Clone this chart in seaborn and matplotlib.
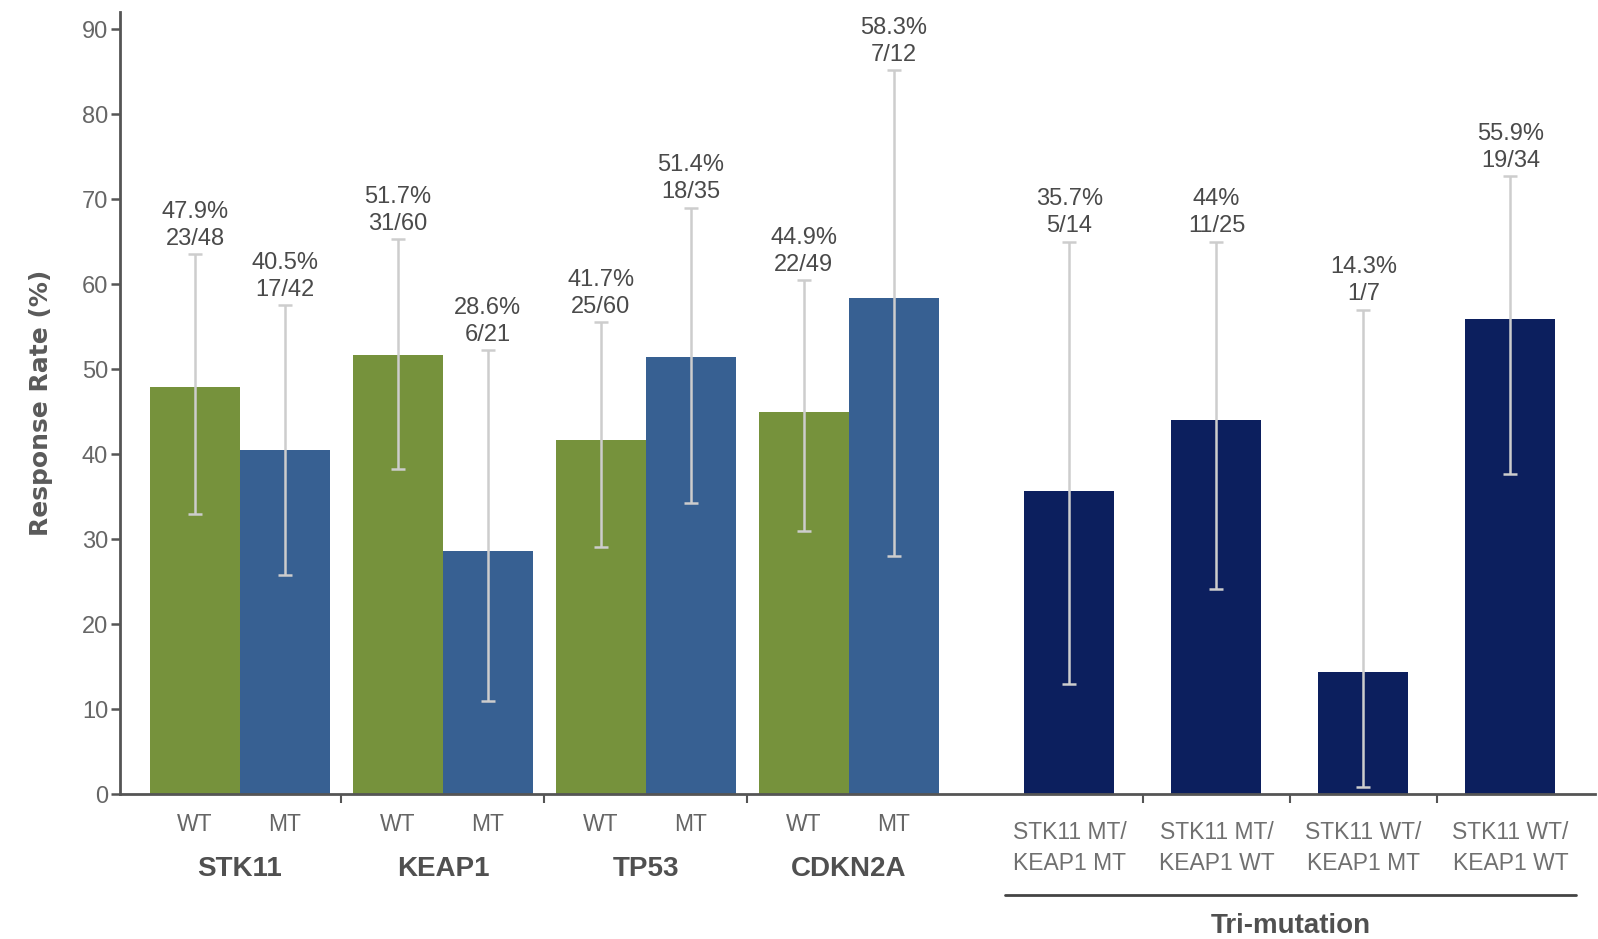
import matplotlib
matplotlib.use("Agg")
import matplotlib.pyplot as plt
import numpy as np
import pandas as pd
import seaborn as sns

# ---- data -------------------------------------------------------------
genes = ["STK11", "KEAP1", "TP53", "CDKN2A"]
status = ["WT", "MT"]
gene_rates = [47.9, 40.5, 51.7, 28.6, 41.7, 51.4, 44.9, 58.3]
gene_counts = ["23/48", "17/42", "31/60", "6/21", "25/60", "18/35", "22/49", "7/12"]
gene_ci_low = [33.0, 25.8, 38.2, 11.0, 29.1, 34.2, 31.0, 28.0]
gene_ci_high = [63.5, 57.5, 65.3, 52.2, 55.5, 69.0, 60.5, 85.2]

tri_labels = ["STK11 MT/\nKEAP1 MT", "STK11 MT/\nKEAP1 WT",
              "STK11 WT/\nKEAP1 MT", "STK11 WT/\nKEAP1 WT"]
tri_rates = [35.7, 44.0, 14.3, 55.9]
tri_counts = ["5/14", "11/25", "1/7", "19/34"]
tri_ci_low = [12.9, 24.1, 0.8, 37.6]
tri_ci_high = [65.0, 65.0, 57.0, 72.7]
tri_title = "Tri-mutation"

y_label = "Response Rate (%)"
y_ticks = [0, 10, 20, 30, 40, 50, 60, 70, 80, 90]

# ---- layout (bar width = 1 unit) --------------------------------------
pair_pitch = 2.255
tri_start = 9.717
tri_pitch = 1.633

gene_pos = [g * pair_pitch + s for g in range(len(genes)) for s in range(2)]
tri_pos = [tri_start + i * tri_pitch for i in range(len(tri_rates))]

df = pd.DataFrame({
    "pos": gene_pos + tri_pos,
    "rate": gene_rates + tri_rates,
    "kind": status * len(genes) + ["TRI"] * len(tri_rates),
})
palette = {"WT": "#76923c", "MT": "#376092", "TRI": "#0c1f5e"}

sns.set_style("white")
plt.rcParams["font.family"] = ["Liberation Sans", "DejaVu Sans"]

TXT = "#505050"
AXC = "#555555"

fig = plt.figure(figsize=(15.98, 9.39), dpi=100)
ax = fig.add_axes([0.0751, 0.1544, 0.9230, 0.8328])

sns.barplot(data=df, x="pos", y="rate", hue="kind", palette=palette,
            native_scale=True, dodge=False, width=1.0, errorbar=None,
            legend=False, saturation=1, linewidth=0, ax=ax)

# confidence intervals
all_pos = np.array(gene_pos + tri_pos)
all_rate = np.array(gene_rates + tri_rates)
all_lo = np.array(gene_ci_low + tri_ci_low)
all_hi = np.array(gene_ci_high + tri_ci_high)
ax.errorbar(all_pos, all_rate, yerr=[all_rate - all_lo, all_hi - all_rate],
            fmt="none", ecolor="#cdcdcd", elinewidth=1.8, capsize=5,
            capthick=1.8, zorder=4)

# value labels above the upper CI
all_counts = gene_counts + tri_counts
for x, r, hi, c in zip(all_pos, all_rate, all_hi, all_counts):
    ax.annotate(f"{r:g}%\n{c}", xy=(x, hi), xytext=(0, 3),
                textcoords="offset points", ha="center", va="bottom",
                fontsize=17, linespacing=1.3, color="#4a4a4a",
                annotation_clip=False)

# axes styling
ax.set_xlim(-0.833, 15.556)
ax.set_ylim(0, 92)
ax.set_yticks(y_ticks)
ax.set_xlabel("")
ax.set_ylabel(y_label, fontfamily="DejaVu Sans", fontweight="bold",
              fontsize=18, color="#5a5a5a")
ax.yaxis.set_label_coords(-0.0535, 0.5)
ax.yaxis.label.set_verticalalignment("center")

for side in ("top", "right"):
    ax.spines[side].set_visible(False)
for side in ("left", "bottom"):
    ax.spines[side].set_color(AXC)
    ax.spines[side].set_linewidth(2.0)

ax.tick_params(axis="y", labelsize=17, labelcolor="#666666", length=6.5,
               width=1.8, color=AXC, pad=2, direction="out", left=True)

# separator ticks between groups on the x axis
seps = [(g * pair_pitch + 1.5 + (g + 1) * pair_pitch - 0.5) / 2
        for g in range(len(genes) - 1)]
seps += [(tri_pos[i] + tri_pos[i + 1]) / 2 for i in range(len(tri_pos) - 1)]
ax.set_xticks(seps)
ax.tick_params(axis="x", length=6.5, width=1.5, color=AXC, direction="out",
               labelbottom=False, bottom=True)

# category labels under the axis
xcoords = ("data", "axes fraction")
for x, s in zip(gene_pos, status * len(genes)):
    ax.annotate(s, xy=(x, 0), xycoords=xcoords, xytext=(0, -22.3),
                textcoords="offset points", ha="center", va="center",
                fontsize=16.5, color="#666666", annotation_clip=False)
for g, name in enumerate(genes):
    ax.annotate(name, xy=(g * pair_pitch + 0.5, 0), xycoords=xcoords,
                xytext=(0, -54.0), textcoords="offset points",
                ha="center", va="center", fontsize=20, fontweight="bold",
                color=TXT, annotation_clip=False)
for x, lab in zip(tri_pos, tri_labels):
    ax.annotate(lab, xy=(x, 0), xycoords=xcoords, xytext=(0, -39.0),
                textcoords="offset points", ha="center", va="center",
                fontsize=16.5, linespacing=1.42, color="#707070",
                annotation_clip=False)

# bracket line and title for the tri-mutation block
x0 = tri_pos[0] - 0.5 - 0.22
x1 = tri_pos[-1] + 0.5 + 0.23
ax.plot([x0, x1], [-0.1292, -0.1292], transform=ax.get_xaxis_transform(),
        color="#444444", lw=2.0, clip_on=False)
ax.annotate(tri_title, xy=((x0 + x1) / 2, 0), xycoords=xcoords,
            xytext=(0, -95.0), textcoords="offset points", ha="center",
            va="center", fontsize=20, fontweight="bold", color=TXT,
            annotation_clip=False)

fig.savefig("out.png", dpi=100, facecolor="white")
